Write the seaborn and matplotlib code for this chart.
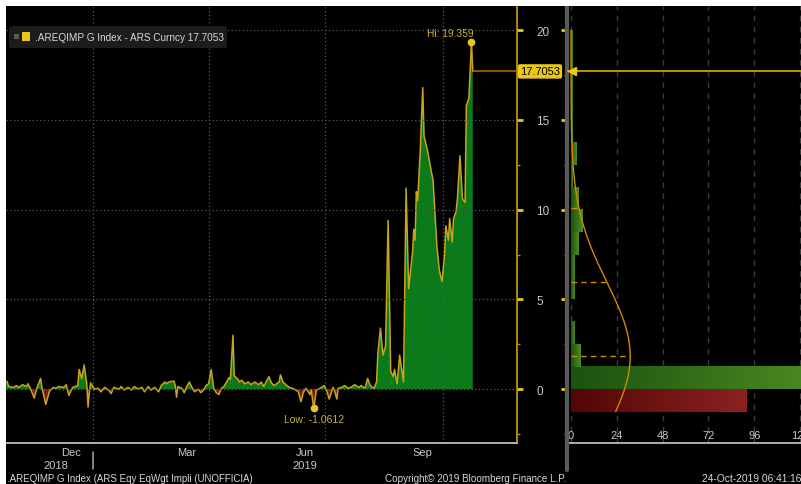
import numpy as np
import pandas as pd
import seaborn as sns
import matplotlib
matplotlib.use("Agg")
import matplotlib.pyplot as plt
import matplotlib.dates as mdates
from matplotlib.patches import Rectangle, FancyBboxPatch
from matplotlib.colors import LinearSegmentedColormap
from matplotlib.lines import Line2D

# ---------------- data ----------------
dates = [
    "2018-10-25", "2018-10-26", "2018-10-27", "2018-10-31", "2018-11-02", "2018-11-04",
    "2018-11-07", "2018-11-10", "2018-11-11", "2018-11-13", "2018-11-16", "2018-11-18",
    "2018-11-21", "2018-11-22", "2018-11-25", "2018-11-28", "2018-12-01", "2018-12-03",
    "2018-12-05", "2018-12-09", "2018-12-11", "2018-12-13", "2018-12-16", "2018-12-20",
    "2018-12-21", "2018-12-23", "2018-12-25", "2018-12-27", "2018-12-28", "2018-12-29",
    "2018-12-30",
    "2019-01-02", "2019-01-05", "2019-01-07", "2019-01-10", "2019-01-13", "2019-01-15",
    "2019-01-17", "2019-01-21", "2019-01-23", "2019-01-25", "2019-01-28", "2019-01-31",
    "2019-02-02", "2019-02-05", "2019-02-08", "2019-02-10", "2019-02-13", "2019-02-15",
    "2019-02-18", "2019-02-21", "2019-02-23", "2019-02-26", "2019-02-27",
    "2019-03-01", "2019-03-05", "2019-03-06", "2019-03-07", "2019-03-08", "2019-03-11",
    "2019-03-13", "2019-03-15", "2019-03-17", "2019-03-19", "2019-03-21", "2019-03-24",
    "2019-03-26", "2019-03-28", "2019-03-30",
    "2019-04-01", "2019-04-03", "2019-04-05", "2019-04-07", "2019-04-09", "2019-04-11",
    "2019-04-13", "2019-04-17", "2019-04-18", "2019-04-20", "2019-04-21", "2019-04-24",
    "2019-04-25", "2019-04-27", "2019-04-29",
    "2019-05-02", "2019-05-04", "2019-05-07", "2019-05-10", "2019-05-12", "2019-05-14",
    "2019-05-18", "2019-05-20", "2019-05-22", "2019-05-26", "2019-05-27", "2019-05-29",
    "2019-06-01", "2019-06-03", "2019-06-07", "2019-06-10", "2019-06-12", "2019-06-14",
    "2019-06-16", "2019-06-19", "2019-06-20", "2019-06-22", "2019-06-24", "2019-06-27",
    "2019-06-30",
    "2019-07-02", "2019-07-04", "2019-07-07", "2019-07-08", "2019-07-10", "2019-07-11",
    "2019-07-14", "2019-07-16", "2019-07-19", "2019-07-22", "2019-07-24", "2019-07-27",
    "2019-07-29",
    "2019-08-01", "2019-08-03", "2019-08-05", "2019-08-08", "2019-08-10", "2019-08-11",
    "2019-08-13", "2019-08-15", "2019-08-17", "2019-08-19", "2019-08-21", "2019-08-23",
    "2019-08-24", "2019-08-26", "2019-08-28", "2019-08-31",
    "2019-09-02", "2019-09-04", "2019-09-07", "2019-09-08", "2019-09-09", "2019-09-10",
    "2019-09-11", "2019-09-13", "2019-09-15", "2019-09-16", "2019-09-18", "2019-09-19",
    "2019-09-22", "2019-09-23", "2019-09-26", "2019-09-28", "2019-09-30",
    "2019-10-02", "2019-10-03", "2019-10-05", "2019-10-06", "2019-10-08", "2019-10-09",
    "2019-10-11", "2019-10-12", "2019-10-14", "2019-10-16", "2019-10-18", "2019-10-19",
    "2019-10-21", "2019-10-23", "2019-10-24",
]
values = [
    0.45, 0.40, 0.15, 0.10, 0.20, 0.10,
    0.25, 0.15, 0.30, 0.05, -0.50, 0.05,
    0.60, 0.10, -0.85, -0.10, 0.10, 0.05,
    0.15, 0.10, 0.25, -0.35, 0.10, 0.20,
    1.10, 0.60, 1.35, 0.30, -1.00, -0.15,
    0.35,
    0.00, 0.05, -0.15, 0.10, -0.05, -0.25,
    0.10, 0.00, 0.15, -0.05, 0.10, -0.05,
    0.15, 0.00, 0.10, -0.15, 0.15, -0.05,
    0.10, -0.15, 0.20, 0.40, 0.30,
    0.40, 0.45, 0.20, -0.45, 0.15, 0.05,
    -0.20, 0.15, 0.40, 0.10, -0.15, 0.00,
    -0.20, -0.05, 0.20,
    0.30, 1.10, 0.05, -0.20, -0.30, 0.05,
    0.15, 0.65, 0.55, 3.00, 0.75, 0.55,
    0.40, 0.50, 0.30,
    0.40, 0.25, 0.40, 0.25, 0.40, 0.15,
    0.70, 0.35, 0.20, 0.40, 0.80, 0.40,
    0.20, 0.10, 0.00, -0.15, -0.70, -0.15,
    0.05, -0.30, -0.05, -1.0612, -0.05, 0.05,
    0.20,
    -0.05, -0.55, 0.10, -0.05, -0.55, 0.05,
    0.10, 0.20, 0.05, 0.15, 0.25, 0.10,
    0.20,
    0.05, 0.60, 0.20, 0.05, 0.40, 2.00,
    3.40, 1.90, 2.40, 9.40, 1.00, 0.70,
    1.10, 0.30, 1.90, 0.40,
    11.20, 5.60, 7.60, 8.90, 8.30, 11.00,
    10.50, 13.20, 16.80, 14.10, 13.50, 13.20,
    12.00, 11.70, 8.00, 6.60, 6.00,
    7.50, 9.10, 8.30, 9.50, 8.20, 9.50,
    9.90, 10.60, 13.00, 10.60, 10.40, 15.80,
    16.20, 19.359, 17.7053,
]

# histogram panel (bin edges / counts) and the fitted normal curve
hist_edges = [-1.25, 0, 1.25, 2.5, 3.75, 5, 6.25, 7.5, 8.75, 10, 11.25,
              12.5, 13.75, 15, 16.25, 17.5, 18.75, 20]
hist_counts = [92, 135, 5, 2, 0, 2, 2, 4, 6, 4, 1, 3, 1, 1, 1, 1, 1]
fit_mean = 1.84
fit_sd = 4.12
fit_peak = 31

month_labels = ["Dec", "Mar", "Jun", "Sep"]
month_label_dates = ["2018-12-15", "2019-03-15", "2019-06-15", "2019-09-15"]
year_labels = ["2018", "2019"]
year_label_dates = ["2018-12-03", "2019-06-15"]
quarter_starts = ["2019-01-01", "2019-04-01", "2019-07-01", "2019-10-01"]
y_ticks = [0, 5, 10, 15, 20]
hist_ticks = [0, 24, 48, 72, 96, 120]

GREEN = "#0b7a1a"
RED = "#7a1c14"
LINE = "#c9a31c"
ORANGE = "#d08a00"
GOLD = "#b8960c"
YELLOW = "#e8c81a"
TXT = "#c8c8c8"

sns.set_style("dark")
plt.rcParams["font.family"] = ["Liberation Sans Narrow", "Liberation Sans", "DejaVu Sans"]

W, H = 801, 485
fig = plt.figure(figsize=(W / 100, H / 100), dpi=100, facecolor="black")


def fx(px):
    return px / W


def fy(py):
    return 1 - py / H


# white screenshot border (top and left)
fig.patches.append(Rectangle((0, fy(7)), 1, 7 / H, transform=fig.transFigure, fc="white", ec="none"))
fig.patches.append(Rectangle((0, 0), 6 / W, 1, transform=fig.transFigure, fc="white", ec="none"))

ax = fig.add_axes([fx(6), fy(444), fx(517) - fx(6), fy(7) - fy(444)])
ax2 = fig.add_axes([fx(567), fy(444), fx(801) - fx(567), fy(7) - fy(444)], sharey=ax)

# ---------------- main series ----------------
df = pd.DataFrame({"date": pd.to_datetime(dates), "value": values})
xnum = mdates.date2num(df["date"])
v = df["value"].to_numpy()

ax.set_facecolor("black")
ax.fill_between(xnum, v, 0, where=v >= 0, interpolate=True, color=GREEN, lw=0)
ax.fill_between(xnum, v, 0, where=v <= 0, interpolate=True, color=RED, lw=0)
sns.lineplot(x=xnum, y=v, ax=ax, color=LINE, lw=1.1, estimator=None, sort=False)

x_left = mdates.date2num(pd.Timestamp("2018-10-25"))
x_right = mdates.date2num(pd.Timestamp("2019-11-27 12:00"))
ax.set_xlim(x_left, x_right)
ax.set_ylim(-3.0, 21.35)

ax.set_axisbelow(False)
ax.yaxis.grid(True, color="#5a5a5a", ls=(0, (1, 2)), lw=0.9)
ax.xaxis.grid(False)
for q in quarter_starts:
    ax.axvline(mdates.date2num(pd.Timestamp(q)), color="#5a5a5a", ls=(0, (1, 2)), lw=0.9, zorder=1.5)

ax.yaxis.tick_right()
ax.set_yticks(y_ticks)
ax.set_yticks([-2.5, 2.5, 7.5, 12.5, 17.5], minor=True)
ax.tick_params(axis="y", which="major", color=YELLOW, labelcolor=TXT, length=4, width=2,
               direction="out", pad=10, labelsize=8.5)
ax.tick_params(axis="y", which="minor", color=GOLD, length=2, width=1, direction="out")

ax.set_xticks(mdates.date2num(pd.to_datetime(month_label_dates)))
ax.set_xticklabels(month_labels)
ax.xaxis.set_minor_locator(mdates.MonthLocator())
ax.tick_params(axis="x", which="major", length=0, labelcolor=TXT, pad=3, labelsize=8)
ax.tick_params(axis="x", which="minor", length=3, color="#999999", direction="out")
for lab, d in zip(year_labels, year_label_dates):
    ax.annotate(lab, xy=(mdates.date2num(pd.Timestamp(d)), 0), xycoords=ax.get_xaxis_transform(),
                xytext=(0, -16), textcoords="offset points", ha="center", va="center",
                color=TXT, fontsize=8, annotation_clip=False)
jan1 = mdates.date2num(pd.Timestamp("2019-01-01"))
ax.plot([jan1, jan1], [-0.02, -0.06], transform=ax.get_xaxis_transform(), clip_on=False,
        color="#9a9a9a", lw=1.2)

for s in ["left", "top"]:
    ax.spines[s].set_visible(False)
ax.spines["right"].set_color(GOLD)
ax.spines["right"].set_linewidth(1.3)
ax.spines["bottom"].set_color("#bdbdbd")
ax.spines["bottom"].set_linewidth(1.3)
ax.set_xlabel("")
ax.set_ylabel("")

# hi / low / last markers
i_hi = int(np.argmax(v))
i_lo = int(np.argmin(v))
last = v[-1]
ax.plot([xnum[i_hi]], [v[i_hi]], "o", color=YELLOW, ms=4.5, zorder=6)
ax.annotate(f"Hi: {v[i_hi]:.3f}", xy=(xnum[i_hi], v[i_hi]), xytext=(1.5, 3), textcoords="offset points",
            ha="right", va="bottom", color="#c8b030", fontsize=7.4)
ax.plot([xnum[i_lo]], [v[i_lo]], "o", color=YELLOW, ms=4.5, zorder=6)
ax.annotate(f"Low: {v[i_lo]:.4f}", xy=(xnum[i_lo], v[i_lo]), xytext=(0, -4), textcoords="offset points",
            ha="center", va="top", color="#c8b030", fontsize=7.5)
ax.plot([xnum[-1], x_right], [last, last], color="#b86a00", lw=1.1, zorder=3)
ax.annotate(f"{last:.4f}", xy=(1, last), xycoords=ax.get_yaxis_transform(), xytext=(16.5, 0),
            textcoords="offset points", ha="center", va="center", color="black", fontsize=8,
            bbox=dict(boxstyle="round,pad=0.2", fc=YELLOW, ec="none"), annotation_clip=False, zorder=10)

# ---------------- histogram panel ----------------
mids = [(a + b) / 2 for a, b in zip(hist_edges[:-1], hist_edges[1:])]
ax2.set_facecolor("black")
sns.histplot(y=mids, weights=hist_counts, bins=hist_edges, ax=ax2, color=GREEN, alpha=1,
             edgecolor="none", linewidth=0)

green_cmap = LinearSegmentedColormap.from_list("g", ["#1a5210", "#4e8e22"])
red_cmap = LinearSegmentedColormap.from_list("r", ["#520606", "#8c2222"])
grad = np.linspace(0, 1, 256).reshape(1, -1)
for p in list(ax2.patches):
    x0, y0, w, h = p.get_x(), p.get_y(), p.get_width(), p.get_height()
    p.set_visible(False)
    if w <= 0:
        continue
    cmap = red_cmap if y0 + h <= 1e-6 else green_cmap
    ax2.imshow(grad, extent=[x0, x0 + w, y0, y0 + h], aspect="auto", cmap=cmap, zorder=2,
               interpolation="bilinear")

yy = np.linspace(hist_edges[0], hist_edges[-1], 300)
curve = fit_peak * np.exp(-0.5 * ((yy - fit_mean) / fit_sd) ** 2)
ax2.plot(curve, yy, color=ORANGE, lw=1.0, zorder=4)
for k in [0, 1, 2]:
    yk = fit_mean + k * fit_sd
    ax2.plot([0, fit_peak * np.exp(-0.5 * k * k)], [yk, yk], color=ORANGE, ls=(0, (4, 3)), lw=1.0, zorder=4)

ax2.axhline(last, color="#c8a000", lw=1.3, zorder=5)
ax2.plot([0.6], [last], marker="<", color=YELLOW, ms=6, zorder=6, clip_on=False)

ax2.set_xlim(-2.1, 120.5)
ax2.set_ylim(-3.0, 21.35)
ax2.set_xticks(hist_ticks)
ax2.set_xticks([12, 36, 60, 84, 108], minor=True)
ax2.xaxis.grid(True, color="#3c3c3c", ls=(0, (4, 4)), lw=1.0)
ax2.yaxis.grid(False)
ax2.tick_params(axis="x", which="major", colors="#bdbdbd", labelcolor=TXT, length=3,
                direction="out", pad=-12, labelsize=8)
ax2.tick_params(axis="x", which="minor", colors="#bdbdbd", length=2, direction="out")
ax2.tick_params(axis="y", which="major", left=True, labelleft=False, right=False, labelright=False,
                color=YELLOW, length=4, width=2, direction="out")
ax2.tick_params(axis="y", which="minor", left=True, right=False, color=GOLD, length=2, width=1)
for s in ["top", "right"]:
    ax2.spines[s].set_visible(False)
ax2.spines["left"].set_color("#5a5a5a")
ax2.spines["left"].set_linewidth(3)
ax2.spines["bottom"].set_color("#bdbdbd")
ax2.spines["bottom"].set_linewidth(1.3)
ax2.set_xlabel("")
ax2.set_ylabel("")
fig.add_artist(Line2D([fx(567), fx(567)], [fy(444), fy(471)], color="#5a5a5a", lw=3))

# ---------------- legend box ----------------
fig.patches.append(FancyBboxPatch((fx(9), fy(49)), 218 / W, 22 / H, boxstyle="round,pad=0,rounding_size=0.004",
                                  transform=fig.transFigure, fc="#1c1c1c", ec="none"))
fig.patches.append(Rectangle((fx(14), fy(40)), 5 / W, 5 / H, transform=fig.transFigure, fc="#5a5a5a", ec="none"))
fig.patches.append(Rectangle((fx(22), fy(42)), 8 / W, 9 / H, transform=fig.transFigure, fc=YELLOW, ec="none"))
fig.text(fx(35), fy(38), f".AREQIMP G Index - ARS Curncy {last:.4f}", color="#d8d8d8",
         fontsize=7.2, va="center", ha="left")

# ---------------- footer ----------------
fig.text(fx(7), fy(479), ".AREQIMP G Index (ARS Eqy EqWgt Impli (UNOFFICIA)", color="#d8d8d8",
         fontsize=7, va="center", ha="left")
fig.text(fx(385), fy(479), "Copyright\u00a9 2019 Bloomberg Finance L.P.", color="#d8d8d8",
         fontsize=7.1, va="center", ha="left")
fig.text(fx(802), fy(479), "24-Oct-2019 06:41:16", color="#d8d8d8",
         fontsize=7.4, va="center", ha="right")

fig.savefig("out.png", dpi=100, facecolor=fig.get_facecolor())
